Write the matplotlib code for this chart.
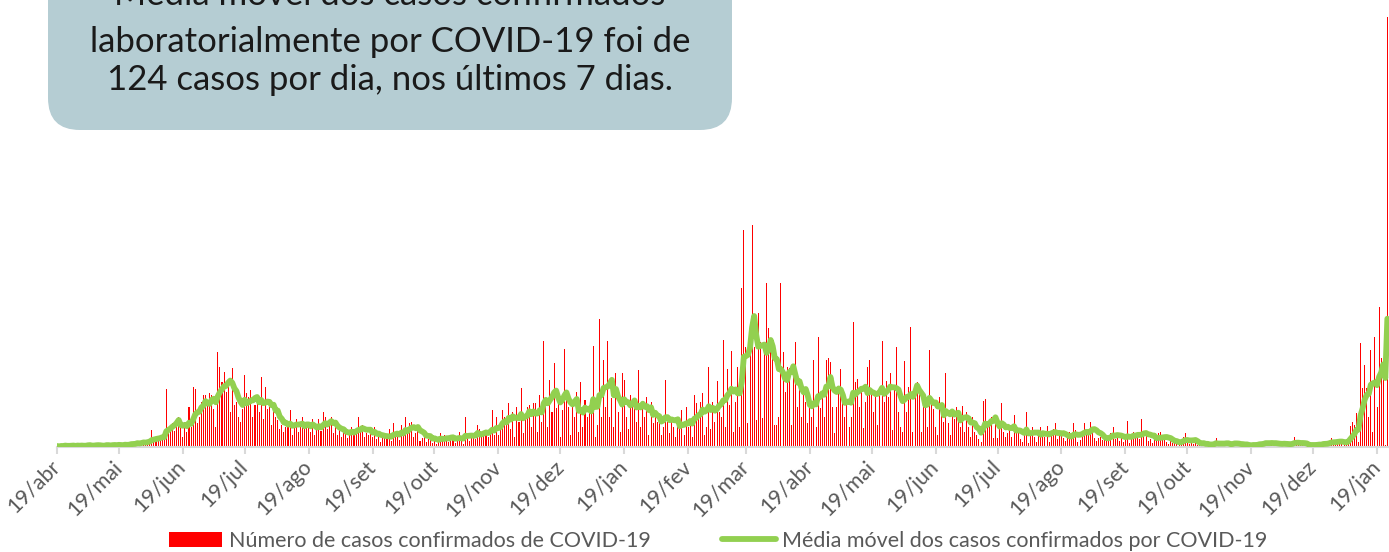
import matplotlib
matplotlib.use('Agg')
import matplotlib.pyplot as plt
from matplotlib.patches import FancyBboxPatch
import pandas as pd

# casos diarios, do dia 19 de cada mes ate o dia 18 do mes seguinte
abr_2020 = [1, 0, 2, 1, 3, 0, 1, 2, 1, 0, 3, 2, 1, 0, 2, 4, 1, 0, 2, 3, 1, 1, 2, 0, 4, 2, 1, 3, 2, 1]
mai_2020 = [2, 3, 1, 4, 2, 3, 5, 3, 4, 6, 2, 5, 7, 4, 6, 8, 17, 5, 9, 10, 7, 12, 9, 58, 14, 19, 24, 16, 28, 30, 22]
jun_2020 = [10, 25, 15, 40, 20, 60, 58, 24, 30, 45, 52, 52, 45, 54, 52, 38, 20, 95, 80, 65, 75, 55, 60, 35, 79, 42, 45, 30, 25, 38]
jul_2020 = [72, 54, 50, 57, 30, 42, 45, 35, 70, 28, 60, 38, 40, 22, 38, 30, 27, 18, 22, 15, 20, 25, 37, 12, 20, 28, 15, 22, 30, 18, 25]
ago_2020 = [20, 15, 28, 12, 18, 28, 16, 35, 30, 18, 24, 30, 14, 20, 12, 18, 10, 20, 14, 9, 16, 20, 12, 18, 30, 15, 22, 10, 14, 12, 18]
set_2020 = [10, 20, 8, 12, 5, 9, 14, 8, 18, 6, 24, 10, 14, 7, 22, 12, 30, 16, 24, 25, 10, 14, 21, 6, 9, 15, 5, 8, 12, 4]
out_2020 = [8, 3, 10, 14, 6, 12, 9, 5, 10, 12, 4, 8, 15, 7, 3, 30, 10, 6, 9, 14, 8, 22, 18, 12, 13, 15, 10, 16, 37, 12, 30]
nov_2020 = [12, 22, 37, 30, 29, 44, 18, 35, 10, 40, 25, 59, 14, 30, 40, 42, 20, 44, 44, 15, 52, 25, 106, 44, 20, 67, 35, 84, 39, 57]
dez_2020 = [10, 37, 98, 57, 40, 12, 44, 30, 55, 15, 65, 20, 47, 30, 37, 35, 101, 10, 22, 128, 30, 87, 40, 106, 30, 49, 20, 74, 35, 15, 74]
jan_2021 = [67, 30, 18, 52, 45, 40, 25, 77, 20, 44, 30, 50, 12, 45, 24, 35, 25, 25, 12, 20, 67, 25, 14, 30, 20, 10, 28, 18, 37, 12, 40]
fev_2021 = [20, 27, 10, 52, 44, 30, 45, 54, 12, 20, 80, 18, 45, 25, 66, 35, 30, 107, 20, 78, 42, 96, 15, 45, 80, 20, 159, 217]
mar_2021 = [100, 24, 95, 222, 100, 27, 134, 105, 29, 100, 164, 119, 98, 90, 22, 22, 30, 164, 95, 55, 80, 79, 22, 70, 105, 40, 64, 30, 52, 45, 24]
abr_2021 = [40, 30, 87, 20, 110, 39, 50, 30, 87, 89, 85, 40, 14, 40, 55, 78, 52, 30, 45, 20, 30, 125, 65, 68, 40, 60, 19, 45, 80, 87]
mai_2021 = [54, 35, 50, 22, 60, 106, 45, 66, 50, 74, 17, 60, 100, 35, 20, 15, 86, 35, 60, 120, 15, 50, 65, 55, 15, 40, 52, 20, 97, 45, 38]
jun_2021 = [20, 12, 50, 32, 25, 74, 24, 12, 32, 28, 40, 30, 20, 41, 15, 35, 20, 10, 30, 15, 12, 8, 5, 46, 48, 20, 25, 30, 9, 30]
jul_2021 = [9, 20, 44, 15, 10, 14, 20, 10, 32, 14, 17, 8, 5, 12, 35, 4, 15, 20, 10, 5, 12, 20, 15, 10, 21, 5, 12, 18, 24, 8, 11]
ago_2021 = [15, 9, 6, 10, 15, 8, 24, 17, 5, 7, 14, 24, 15, 18, 25, 20, 9, 6, 9, 10, 7, 8, 12, 10, 14, 20, 8, 12, 6, 10, 5]
set_2021 = [8, 26, 4, 12, 15, 10, 10, 8, 28, 12, 15, 6, 8, 4, 7, 10, 14, 15, 9, 10, 5, 3, 6, 4, 6, 7, 2, 5, 10, 14]
out_2021 = [5, 3, 7, 3, 7, 2, 3, 1, 4, 2, 3, 2, 3, 4, 9, 1, 2, 3, 2, 5, 4, 3, 2, 6, 3, 1, 2, 3, 1, 2, 2]
nov_2021 = [1, 3, 2, 4, 5, 3, 4, 6, 3, 2, 5, 4, 3, 2, 4, 2, 3, 4, 3, 2, 4, 10, 4, 3, 2, 3, 1, 2, 1, 2]
dez_2021 = [3, 2, 4, 3, 2, 5, 3, 4, 6, 9, 4, 3, 7, 5, 4, 3, 6, 9, 21, 25, 22, 34, 5, 104, 59, 82, 59, 30, 97, 15, 110]
jan_2022 = [40, 140, 89, 87, 2, 430]

meses = ['abr', 'mai', 'jun', 'jul', 'ago', 'set', 'out', 'nov', 'dez', 'jan', 'fev', 'mar']
serie_barras = 'Número de casos confirmados de COVID-19'
serie_media = 'Média móvel dos casos confirmados por COVID-19'
caixa_texto = ['Média móvel dos casos confirmados',
               'laboratorialmente por COVID-19 foi de',
               '124 casos por dia, nos últimos 7 dias.']

casos = (abr_2020 + mai_2020 + jun_2020 + jul_2020 + ago_2020 + set_2020 + out_2020
         + nov_2020 + dez_2020 + jan_2021 + fev_2021 + mar_2021 + abr_2021 + mai_2021
         + jun_2021 + jul_2021 + ago_2021 + set_2021 + out_2021 + nov_2021 + dez_2021 + jan_2022)
datas = pd.date_range('2020-04-19', periods=len(casos), freq='D')
media = pd.Series(casos, index=datas).rolling(7, min_periods=1).mean()

plt.rcParams['font.family'] = ['Lato', 'DejaVu Sans']

W, H = 1389, 552
fig = plt.figure(figsize=(W / 100, H / 100), dpi=100)
ax = fig.add_axes([57 / W, 105 / H, (W - 57) / W, 447 / H])

barras = ax.bar(datas, casos, width=0.5, color='#FF0000', linewidth=0, label=serie_barras, zorder=2)
linha, = ax.plot(datas, media, color='#92D050', lw=4.2, solid_joinstyle='round',
                 solid_capstyle='round', label=serie_media, zorder=3)

ax.set_xlim(datas[0], datas[0] + pd.Timedelta(days=645.8))
ax.set_ylim(0, 447)

ticks = pd.date_range('2020-04-01', '2022-01-01', freq='MS') + pd.Timedelta(days=18)
ax.set_xticks(ticks)
ax.set_xticklabels(['19/' + meses[(t.month - 4) % 12] for t in ticks], rotation=45,
                   ha='right', va='center', rotation_mode='anchor', fontsize=15.5, color='#595959')
ax.tick_params(axis='x', length=5, width=1.5, color='#D9D9D9', pad=7)
ax.tick_params(axis='y', left=False, labelleft=False)
for s in ['left', 'right', 'top']:
    ax.spines[s].set_visible(False)
ax.spines['bottom'].set_color('#D9D9D9')
ax.spines['bottom'].set_linewidth(1.5)
ax.set_facecolor('none')

fig.legend([barras, linha], [serie_barras, serie_media], loc='center',
           bbox_to_anchor=(718 / W, 11 / H), ncol=2, frameon=False, fontsize=15.5,
           handlelength=2.5, handletextpad=0.3, columnspacing=3.3, labelcolor='#595959')

# caixa de texto no canto superior
ov = fig.add_axes([0, 0, 1, 1], zorder=5)
ov.set_xlim(0, W)
ov.set_ylim(H, 0)
ov.axis('off')
ov.add_patch(FancyBboxPatch((48, -90), 684, 220, boxstyle='round,pad=0,rounding_size=32',
                            fc='#B5CDD3', ec='none'))
for y, linha_txt in zip([-5, 42, 80], caixa_texto):
    ov.text(390, y, linha_txt, ha='center', va='center', fontsize=25, color='#1A1A1A')

fig.savefig('out.png', dpi=100)
